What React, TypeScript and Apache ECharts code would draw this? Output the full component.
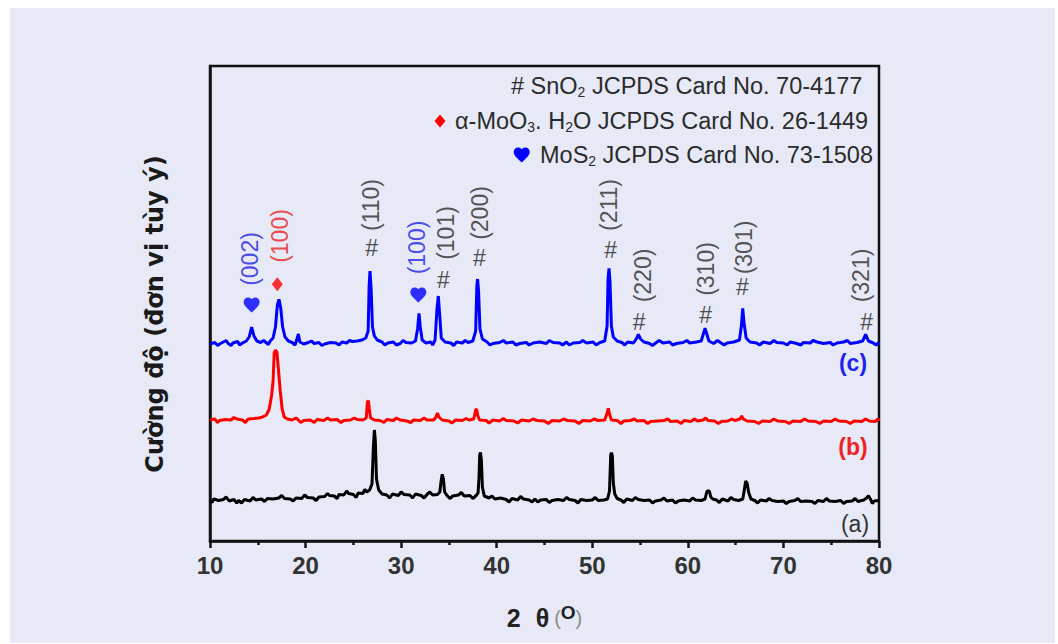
import React, { useEffect, useRef } from "react";
import * as echarts from "echarts";

// ---- data (2θ in degrees, intensity in arbitrary units, traces offset) ----
const traceC: [number, number][] = [
  [10.0, 197], [10.5, 198.5], [11.0, 197], [11.4, 199], [11.9, 197.5], [12.2, 195.5], [12.4, 198], [12.9, 199.5], [13.4, 198], [13.8, 200],
  [14.1, 204], [14.36, 214], [14.6, 205], [14.9, 200], [15.3, 198.5], [15.8, 199], [16.3, 200], [16.6, 203], [16.85, 214], [17.05, 236],
  [17.22, 241.7], [17.4, 233], [17.6, 214], [17.85, 204], [18.2, 200], [18.6, 198.5], [19.0, 199], [19.25, 207], [19.4, 199], [19.8, 197],
  [20.3, 198.5], [20.9, 197.5], [21.4, 198.5], [21.7, 195.5], [22.0, 197], [22.6, 198.5], [23.2, 198], [23.8, 199], [24.3, 198], [24.9, 199.5],
  [25.4, 200], [25.9, 201], [26.3, 203], [26.55, 210], [26.65, 255], [26.74, 270], [26.86, 252], [27.0, 214], [27.2, 205], [27.5, 201],
  [28.0, 199], [28.6, 198], [29.2, 199], [29.5, 196], [29.9, 197.5], [30.5, 198.5], [31.1, 198], [31.5, 200], [31.72, 212], [31.87, 227.7],
  [32.0, 214], [32.2, 201], [32.6, 198], [33.1, 199], [33.55, 201], [33.75, 232], [33.89, 245], [34.02, 228], [34.2, 203], [34.6, 199],
  [35.2, 198], [35.5, 195.5], [35.8, 199], [36.4, 198], [37.0, 198.5], [37.5, 200], [37.8, 210], [37.92, 255], [38.0, 262], [38.1, 250],
  [38.25, 212], [38.5, 202], [39.0, 199], [39.6, 197.5], [40.3, 198.5], [41.0, 198], [41.7, 199], [42.0, 196], [42.4, 197.5], [43.1, 198.5],
  [43.8, 198], [44.5, 199], [45.2, 197.5], [45.9, 198.5], [46.6, 198], [47.3, 199], [47.6, 196], [48.0, 198], [48.7, 198.5], [49.4, 198],
  [50.1, 199], [50.8, 198.5], [51.3, 200], [51.55, 215], [51.65, 262], [51.75, 272.7], [51.85, 260], [52.0, 215], [52.2, 204], [52.6, 200],
  [53.1, 198.5], [53.7, 199], [54.3, 198], [54.6, 202], [54.82, 206.7], [55.05, 202], [55.4, 199], [56.0, 197.5], [56.3, 195.5], [56.7, 198.5],
  [57.4, 198], [58.1, 199], [58.8, 197.5], [59.5, 198.5], [60.2, 198], [60.9, 199], [61.4, 200], [61.65, 208], [61.8, 212.7], [61.95, 208],
  [62.2, 200], [62.7, 197.5], [63.4, 198.5], [63.8, 196], [64.1, 198], [64.8, 199], [65.4, 201], [65.6, 215], [65.74, 232.7], [65.88, 218],
  [66.1, 203], [66.5, 199], [67.2, 198], [67.9, 199], [68.6, 197.5], [69.3, 198.5], [70.0, 198], [70.4, 196], [70.7, 199], [71.4, 197.5],
  [72.1, 198.5], [72.8, 198], [73.5, 199], [74.2, 197.5], [74.9, 198.5], [75.6, 198], [76.3, 199], [77.0, 197.5], [77.7, 198.5], [78.3, 200],
  [78.6, 206.7], [78.9, 200], [79.4, 198], [80.0, 198.5],
];
// short noise spikes read along the (c) baseline
const traceCNoise: [number, number][] = [
  [10.8, 195.5], [11.7, 200.5], [13.1, 196], [15.6, 200.5], [16.1, 196.5], [18.9, 196], [20.6, 200], [23.5, 196], [24.6, 200.5], [28.3, 196],
  [30.2, 200.5], [33.3, 196], [36.7, 200.5], [39.3, 196], [40.7, 200.5], [43.4, 196], [45.5, 200.5], [46.9, 196], [49.0, 200.5], [50.4, 196],
  [53.4, 196], [57.0, 200.5], [58.4, 196], [59.9, 200.5], [63.1, 200.5], [67.5, 196], [69.0, 200.5], [71.8, 196], [73.1, 200.5], [75.2, 196],
  [76.7, 200.5], [79.7, 196],
];

const traceB: [number, number][] = [
  [10.0, 121], [10.5, 122], [11.0, 120.5], [11.6, 121.5], [12.2, 121], [12.8, 122], [13.4, 121], [14.0, 122], [14.6, 122.5], [15.1, 123],
  [15.5, 124], [15.9, 126], [16.2, 132], [16.45, 146], [16.6, 160], [16.72, 188], [16.85, 191], [17.0, 189], [17.1, 178], [17.2, 167],
  [17.35, 150], [17.55, 132], [17.77, 124], [18.1, 122], [18.6, 121], [19.2, 121.5], [19.5, 118.5], [19.8, 120.5], [20.5, 121], [21.2, 121.5],
  [21.9, 120.5], [22.6, 121], [23.3, 121.5], [24.0, 120.5], [24.7, 121], [25.4, 121.5], [26.0, 121], [26.35, 123], [26.47, 139], [26.57, 140.3],
  [26.67, 132], [26.8, 123], [27.2, 121], [27.8, 120.5], [28.5, 121.5], [29.2, 120.5], [29.9, 121], [30.6, 120], [31.3, 121], [32.0, 120.5],
  [32.7, 121], [33.4, 121], [33.65, 124], [33.8, 128], [33.95, 124], [34.3, 121], [35.0, 120], [35.7, 121], [36.4, 120.5], [37.1, 121],
  [37.6, 122], [37.8, 131], [37.9, 132], [38.0, 126], [38.2, 121], [38.9, 120.5], [39.6, 121], [40.3, 120], [41.0, 120.5], [41.8, 120],
  [42.6, 121], [43.4, 120], [44.2, 120.5], [45.0, 120], [45.8, 120.5], [46.6, 120], [47.4, 120.5], [48.2, 120], [49.0, 120.5], [49.8, 120],
  [50.6, 120.5], [51.3, 121], [51.55, 128], [51.68, 132.7], [51.8, 127], [52.0, 121], [52.6, 120.5], [53.3, 120], [54.0, 120.5], [54.7, 120],
  [55.4, 120.5], [56.1, 119.5], [56.8, 120], [57.5, 120.5], [58.2, 119.5], [58.9, 120], [59.6, 120.5], [60.3, 119.5], [61.0, 120], [61.6, 121],
  [61.87, 123], [62.1, 120.5], [62.8, 120], [63.5, 119.5], [64.2, 120], [64.9, 120.5], [65.45, 122], [65.63, 125], [65.8, 122], [66.2, 120],
  [67.0, 119.5], [67.8, 120], [68.6, 119.5], [69.4, 120], [70.2, 119.5], [71.0, 120], [71.8, 119.5], [72.6, 120], [73.4, 119.5], [74.2, 120],
  [75.0, 119.5], [75.8, 120], [76.6, 119.5], [77.4, 120], [78.2, 119.5], [79.0, 120], [79.6, 119.5], [79.9, 122], [80.0, 120],
];
const traceBNoise: [number, number][] = [
  [10.8, 118.5], [12.5, 123.5], [13.7, 118.5], [19.0, 123], [20.9, 118.5], [22.3, 123], [23.7, 118.5], [25.1, 123], [28.2, 118.5], [29.5, 123],
  [31.0, 118.5], [32.4, 123], [35.3, 118], [36.8, 122.5], [39.2, 118], [40.7, 122.5], [42.2, 118], [43.8, 122], [45.4, 117.5], [47.0, 122],
  [48.6, 117.5], [50.2, 122], [53.0, 117.5], [54.4, 122], [55.8, 117.5], [57.9, 122], [59.3, 117.5], [60.7, 122], [63.2, 117.5], [64.6, 122],
  [67.4, 117.5], [69.0, 122], [70.6, 117.5], [72.2, 122], [73.8, 117.5], [75.4, 122], [77.0, 117.5], [78.6, 122],
];

const traceA: [number, number][] = [
  [10.0, 41], [10.4, 42], [10.9, 40.5], [11.4, 41.5], [12.0, 40], [12.5, 41.5], [13.0, 40.5], [13.3, 38], [13.6, 41.5], [14.2, 40],
  [14.8, 41], [15.4, 42], [16.0, 42.5], [16.6, 42], [17.2, 43], [17.8, 42.5], [18.4, 42], [19.0, 43], [19.6, 42.5], [20.2, 43.5],
  [20.8, 43], [21.4, 44], [22.0, 44.5], [22.5, 45.5], [23.0, 45], [23.5, 46.5], [24.0, 46], [24.5, 47.5], [25.0, 46.5], [25.5, 48],
  [26.0, 47.5], [26.4, 49], [26.7, 51], [26.95, 57], [27.1, 95], [27.2, 111], [27.3, 100], [27.42, 62], [27.65, 51], [28.0, 47],
  [28.5, 46], [29.1, 47], [29.7, 45.5], [30.3, 46.5], [30.9, 46], [31.2, 43], [31.5, 47], [32.1, 45.5], [32.7, 46.5], [33.3, 46],
  [33.8, 46.5], [34.05, 49], [34.18, 60], [34.3, 66.7], [34.42, 62], [34.55, 49], [34.8, 45.5], [35.4, 45], [36.0, 46], [36.6, 45],
  [37.2, 45.5], [37.8, 45], [38.05, 48], [38.15, 64], [38.22, 86], [38.3, 88.7], [38.4, 80], [38.5, 54], [38.7, 45], [39.2, 43],
  [39.8, 42], [40.4, 43], [41.0, 41.5], [41.6, 42.5], [42.2, 41], [42.8, 42], [43.4, 41], [44.0, 42], [44.3, 39], [44.6, 41],
  [45.2, 41.5], [45.8, 40.5], [46.4, 41.5], [47.0, 40.5], [47.6, 41.5], [48.2, 40.5], [48.8, 41.5], [49.4, 40.5], [50.0, 41], [50.6, 40.5],
  [51.2, 41], [51.6, 42], [51.8, 50], [51.93, 86], [52.0, 88.3], [52.1, 85], [52.2, 58], [52.35, 47], [52.6, 42.5], [53.0, 41],
  [53.6, 42], [54.2, 40.5], [54.8, 41.5], [55.4, 40.5], [56.0, 41], [56.6, 40], [57.2, 41], [57.8, 40], [58.4, 41], [59.0, 40],
  [59.6, 41], [60.2, 40], [60.8, 41], [61.4, 40.5], [61.8, 42], [61.95, 48], [62.05, 50], [62.25, 50], [62.4, 44], [62.6, 42],
  [63.0, 41], [63.6, 42], [64.2, 40], [64.8, 41.5], [65.3, 40.5], [65.75, 42], [65.92, 52], [66.05, 60], [66.2, 58], [66.35, 49],
  [66.6, 42], [67.0, 40.5], [67.6, 41], [68.2, 40], [68.8, 40.5], [69.4, 39.5], [70.0, 40], [70.6, 39.5], [71.2, 40.5], [71.8, 39.5],
  [72.4, 40], [73.0, 39.5], [73.6, 40.5], [74.2, 39.5], [74.8, 40], [75.4, 39.5], [76.0, 40.5], [76.6, 39.5], [77.2, 40], [77.8, 39.5],
  [78.4, 41], [78.7, 43], [78.9, 45.3], [79.1, 42], [79.5, 40], [80.0, 40.5],
];
const traceANoise: [number, number][] = [
  [10.2, 38.5], [11.7, 44], [12.8, 38], [14.5, 43.5], [15.7, 39.5], [17.5, 45.5], [18.7, 40], [19.9, 46], [21.1, 40.5], [22.3, 47.5],
  [23.3, 42.5], [24.3, 50], [25.3, 43.5], [26.2, 51.5], [28.8, 43], [30.0, 49], [32.4, 43], [33.0, 49], [35.1, 42.5], [36.3, 48.5],
  [37.5, 42.5], [39.5, 45], [41.3, 39], [42.5, 44.5], [43.7, 39], [45.5, 38.5], [47.3, 43.5], [48.5, 38], [50.3, 43.5], [53.3, 38.5],
  [54.5, 43.5], [56.3, 38], [57.5, 43], [58.7, 38], [60.5, 43], [63.3, 38.5], [64.5, 43.5], [67.3, 38], [68.5, 42.5], [70.3, 37.5],
  [71.5, 42.5], [73.3, 37.5], [74.5, 42.5], [76.3, 37.5], [77.5, 42.5], [79.3, 37.5],
];

// peak annotations
const hklText = ["(002)", "(100)", "(110)", "(100)", "(101)", "(200)", "(211)", "(220)", "(310)", "(301)", "(321)"];
const hklPhase = ["MoS2", "MoO3", "SnO2", "MoS2", "SnO2", "SnO2", "SnO2", "SnO2", "SnO2", "SnO2", "SnO2"];
const markTheta = [14.36, 17.04, 26.92, 31.8, 34.41, 38.18, 51.93, 54.89, 61.87, 65.7, 78.71];
const markLevel = [236, 256.7, 292.7, 246, 261, 282.7, 291, 219.3, 226, 254.3, 219.3];
const labelTheta = [14.19, 17.33, 26.81, 31.61, 34.69, 38.25, 51.78, 55.26, 61.9, 65.87, 78.08];
const labelLevel = [282, 305, 336, 293.5, 308, 328, 336, 265.5, 272, 293.5, 265.5];

const xMin = 10;
const xMax = 80;
const xStep = 10;
const yMin = 0;
const yMax = 475;

const sampleNames = ["(c)", "(b)", "(a)"];
const legendLines = [
  "# SnO{s|2} JCPDS Card No. 70-4177",
  "α-MoO{s|3}. H{s|2}O JCPDS Card No. 26-1449",
  "MoS{s|2} JCPDS Card No. 73-1508",
];

// ---- styles ----
const FONT = "'Liberation Sans', Arial, sans-serif";
const BLUE = "#0000ff";
const RED = "#ff0000";
const BLACK = "#000000";
const TXT = "#2b2b2b";
const HEART =
  "M12,21.35L10.55,20.03C5.4,15.36,2,12.28,2,8.5C2,5.42,4.42,3,7.5,3C9.24,3,10.91,3.81,12,5.09C13.09,3.81,14.76,3,16.5,3C19.58,3,22,5.42,22,8.5C22,12.28,18.6,15.36,13.45,20.04L12,21.35Z";

echarts.graphic.registerShape("heartShape", echarts.graphic.extendPath(HEART, {}));

const phaseColor: Record<string, string> = { MoS2: "#2222e6", MoO3: "#e82020", SnO2: TXT };

const merge = (a: [number, number][], b: [number, number][]) => [...a, ...b].sort((p, q) => p[0] - q[0]);

function buildOption() {
  const idx = hklText.map((_, i) => i);
  const sno2 = idx.filter((i) => hklPhase[i] === "SnO2");
  const mos2 = idx.filter((i) => hklPhase[i] === "MoS2");
  const moo3 = idx.filter((i) => hklPhase[i] === "MoO3");

  const traceSeries = (name: string, data: [number, number][], color: string) => ({
    name,
    type: "line",
    data,
    symbol: "none",
    silent: true,
    lineStyle: { color, width: 3 },
    z: 3,
  });

  const subRich = {
    s: { fontSize: 14, lineHeight: 8, verticalAlign: "bottom", fontFamily: FONT, fill: TXT },
  };

  const legendX = [511, 455, 540];
  const legendY = [86, 121, 155];

  return {
    animation: false,
    backgroundColor: "transparent",
    grid: {
      left: 210,
      right: 179,
      top: 66,
      bottom: 103,
      show: true,
      borderColor: "#111",
      borderWidth: 2.5,
      backgroundColor: "transparent",
    },
    xAxis: {
      type: "value",
      min: xMin,
      max: xMax,
      interval: xStep,
      name: "{n|2}{g| }{n|θ}{q| }{p|(}{o|O}{p|)}",
      nameLocation: "middle",
      nameGap: 62,
      nameTextStyle: {
        rich: {
          n: { fontSize: 25, fontWeight: "bold", color: "#222", lineHeight: 30, fontFamily: FONT },
          g: { width: 15, lineHeight: 30 },
          q: { width: 5, lineHeight: 30 },
          p: { fontSize: 20, color: "#8a8a8a", lineHeight: 30, fontFamily: FONT },
          o: { fontSize: 19, fontWeight: "bold", color: "#222", lineHeight: 12, verticalAlign: "top", fontFamily: FONT },
        },
      },
      axisLine: { show: true, lineStyle: { color: "#111", width: 2.5 } },
      axisTick: { show: true, inside: false, length: 7, lineStyle: { color: "#111", width: 2.5 } },
      minorTick: { show: true, splitNumber: 2, length: 4, lineStyle: { color: "#111", width: 2.5 } },
      splitLine: { show: false },
      minorSplitLine: { show: false },
      axisLabel: { fontSize: 24, fontWeight: "bold", color: "#333", margin: 12, fontFamily: FONT },
    },
    yAxis: {
      type: "value",
      min: yMin,
      max: yMax,
      axisLine: { show: true, lineStyle: { color: "#111", width: 2.5 } },
      axisTick: { show: false },
      axisLabel: { show: false },
      splitLine: { show: false },
    },
    series: [
      traceSeries("(a)", merge(traceA, traceANoise), BLACK),
      traceSeries("(b)", merge(traceB, traceBNoise), RED),
      traceSeries("(c)", merge(traceC, traceCNoise), BLUE),
      {
        name: "SnO2 marks",
        type: "scatter",
        silent: true,
        symbol: "circle",
        symbolSize: 1,
        itemStyle: { color: "rgba(0,0,0,0)" },
        data: sno2.map((i) => [markTheta[i], markLevel[i]]),
        label: {
          show: true,
          position: "inside",
          formatter: "#",
          fontSize: 23,
          color: "#222",
          fontFamily: FONT,
        },
        z: 5,
      },
      {
        name: "MoS2 marks",
        type: "scatter",
        silent: true,
        symbol: "path://" + HEART,
        symbolSize: [16, 15],
        itemStyle: { color: BLUE },
        data: mos2.map((i) => [markTheta[i], markLevel[i]]),
        z: 5,
      },
      {
        name: "MoO3 marks",
        type: "scatter",
        silent: true,
        symbol: "diamond",
        symbolSize: [11, 14],
        itemStyle: { color: RED },
        data: moo3.map((i) => [markTheta[i], markLevel[i]]),
        z: 5,
      },
      {
        name: "hkl",
        type: "scatter",
        silent: true,
        symbol: "circle",
        symbolSize: 1,
        itemStyle: { color: "rgba(0,0,0,0)" },
        data: idx.map((i) => ({
          value: [labelTheta[i], labelLevel[i]],
          name: hklText[i],
          label: { color: phaseColor[hklPhase[i]] },
        })),
        label: {
          show: true,
          position: "inside",
          rotate: 90,
          formatter: "{b}",
          fontSize: 23,
          fontFamily: FONT,
        },
        z: 5,
      },
    ],
    graphic: [
      ...legendLines.map((t, i) => ({
        type: "text",
        silent: true,
        x: legendX[i],
        y: legendY[i],
        style: {
          text: t,
          fontSize: 23.5,
          lineHeight: 26,
          fontFamily: FONT,
          fill: TXT,
          textAlign: "left",
          textVerticalAlign: "middle",
          rich: subRich,
        },
      })),
      {
        type: "polygon",
        silent: true,
        shape: { points: [[440, 114.5], [445.5, 121], [440, 127.5], [434.5, 121]] },
        style: { fill: RED },
      },
      {
        type: "heartShape",
        silent: true,
        x: 512.1,
        y: 145.1,
        scaleX: 0.8,
        scaleY: 0.817,
        style: { fill: BLUE },
      },
      {
        type: "text",
        silent: true,
        x: 155,
        y: 314,
        rotation: Math.PI / 2,
        style: {
          text: "Cường độ (đơn vị tùy ý)",
          fontSize: 24,
          fontWeight: "bold",
          fontFamily: "'DejaVu Sans', sans-serif",
          fill: "#1a1a1a",
          textAlign: "center",
          textVerticalAlign: "middle",
        },
      },
      {
        type: "text",
        silent: true,
        x: 853,
        y: 363,
        style: { text: sampleNames[0], fontSize: 23, fontWeight: "bold", fontFamily: FONT, fill: "#2222ee", textAlign: "center", textVerticalAlign: "middle" },
      },
      {
        type: "text",
        silent: true,
        x: 853,
        y: 447,
        style: { text: sampleNames[1], fontSize: 23, fontWeight: "bold", fontFamily: FONT, fill: "#ee2222", textAlign: "center", textVerticalAlign: "middle" },
      },
      {
        type: "text",
        silent: true,
        x: 855,
        y: 524,
        style: { text: sampleNames[2], fontSize: 23, fontFamily: FONT, fill: "#333", textAlign: "center", textVerticalAlign: "middle" },
      },
    ],
  };
}

export default function App() {
  const ref = useRef<HTMLDivElement>(null);
  useEffect(() => {
    if (!ref.current) return;
    const chart = echarts.init(ref.current, undefined, { renderer: "svg" });
    chart.setOption(buildOption() as any);
    return () => chart.dispose();
  }, []);
  return (
    <div style={{ position: "absolute", left: 0, top: 0, width: 1058, height: 644, background: "#ffffff" }}>
      <div style={{ position: "absolute", left: 10, top: 8, width: 1045, height: 635, background: "#e7eaf6" }} />
      <div ref={ref} style={{ position: "absolute", left: 0, top: 0, width: 1058, height: 644 }} />
    </div>
  );
}
